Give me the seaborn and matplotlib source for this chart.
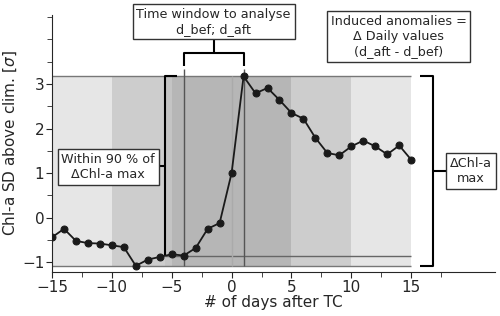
import numpy as np
import pandas as pd
import matplotlib

matplotlib.use("Agg")
import matplotlib.pyplot as plt
import seaborn as sns

sns.set_style("ticks")

# days relative to TC passage and Chl-a anomaly (in SD above climatology)
days = list(range(-15, 16))
chl_sd = [-0.44, -0.25, -0.52, -0.57, -0.58, -0.62, -0.66, -1.08, -0.94, -0.88,
          -0.82, -0.85, -0.68, -0.25, -0.12, 1.00, 3.17, 2.79, 2.91, 2.64,
          2.35, 2.22, 1.79, 1.45, 1.40, 1.60, 1.73, 1.60, 1.42, 1.62, 1.30]

d_bef, d_aft = -4, 1
within90_start = -5.6

df = pd.DataFrame({"day": days, "chl": chl_sd})
vmax = df.chl.max()
vmin = df.chl.min()
v_bef = df.loc[df.day == d_bef, "chl"].iloc[0]

#%%
fig = plt.figure(figsize=(5, 3.16), dpi=100)
ax = fig.add_axes([0.104, 0.139, 0.886, 0.814])

# shaded windows around TC day
for (x0, x1), col in zip([(-15, 15), (-10, 10), (within90_start, 5), (-5, 5)],
                         ["#e6e6e6", "#cdcdcd", "#c4c4c4", "#b6b6b6"]):
    ax.fill_between([x0, x1], vmin, vmax, color=col, lw=0, zorder=0)

ax.hlines([vmax, vmin], -15, 15, color="#777777", lw=1, zorder=1)
ax.hlines(v_bef, within90_start, 15, color="#666666", lw=1, zorder=1)
ax.vlines(0, vmin, vmax, color="#aaaaaa", lw=1, zorder=1)
ax.vlines([d_bef, d_aft], vmin, 3.33, color="#555555", lw=1, zorder=1)

sns.lineplot(data=df, x="day", y="chl", marker="o", color="#1a1a1a",
             markersize=5, markeredgecolor="#1a1a1a", lw=1.3, ax=ax, zorder=3)

ax.set_xlim(-15, 22)
ax.set_ylim(-1.22, 4.55)
ax.set_xticks(range(-15, 16, 5))
ax.set_xticks(np.arange(-12.5, 20.1, 5), minor=True)
ax.set_yticks([-1, 0, 1, 2, 3])
ax.set_yticks(np.arange(-0.5, 4.6, 0.5), minor=True)
ax.tick_params(axis="both", which="major", labelsize=11, length=4.5, pad=1)
ax.tick_params(axis="both", which="minor", length=3.5)
ax.set_xlabel("# of days after TC", fontsize=11, labelpad=0.5)
ax.set_ylabel(r"Chl-a SD above clim. [$\sigma$]", fontsize=11, labelpad=2)
sns.despine(ax=ax)

box = dict(boxstyle="square,pad=0.3", fc="white", ec="#333333", lw=1)
bk = dict(color="black", lw=1.5, clip_on=False, solid_capstyle="butt")

# time window bracket
ax.text(-1.5, 4.40, "Time window to analyse\nd_bef; d_aft", ha="center",
        va="center", fontsize=9.2, bbox=box, zorder=5)
ax.plot([d_bef, d_bef, d_aft, d_aft], [3.40, 3.70, 3.70, 3.40], **bk)
ax.plot([-1.5, -1.5], [3.70, 4.05], **bk)

# induced anomalies
ax.text(13.95, 4.06, "Induced anomalies =\n\u0394 Daily values\n(d_aft - d_bef)",
        ha="center", va="center", fontsize=9.2, bbox=box, zorder=5)

# within 90 % bracket
xb = within90_start
ax.plot([xb + 1.0, xb, xb], [vmax, vmax, v_bef], **bk)
ax.plot([xb - 0.5, xb], [(vmax + v_bef) / 2] * 2, **bk)
ax.text(-10.3, 1.13, "Within 90 % of\n\u0394Chl-a max", ha="center",
        va="center", fontsize=9.2, bbox=box, zorder=5)

# delta max bracket
ax.plot([15.7, 16.8, 16.8, 15.7], [vmax, vmax, vmin, vmin], **bk)
ax.plot([16.8, 18.0], [(vmax + vmin) / 2] * 2, **bk)
ax.text(19.97, 1.05, "\u0394Chl-a\nmax", ha="center", va="center",
        fontsize=9.2, bbox=box, zorder=5)

fig.savefig("out.png", dpi=100)
